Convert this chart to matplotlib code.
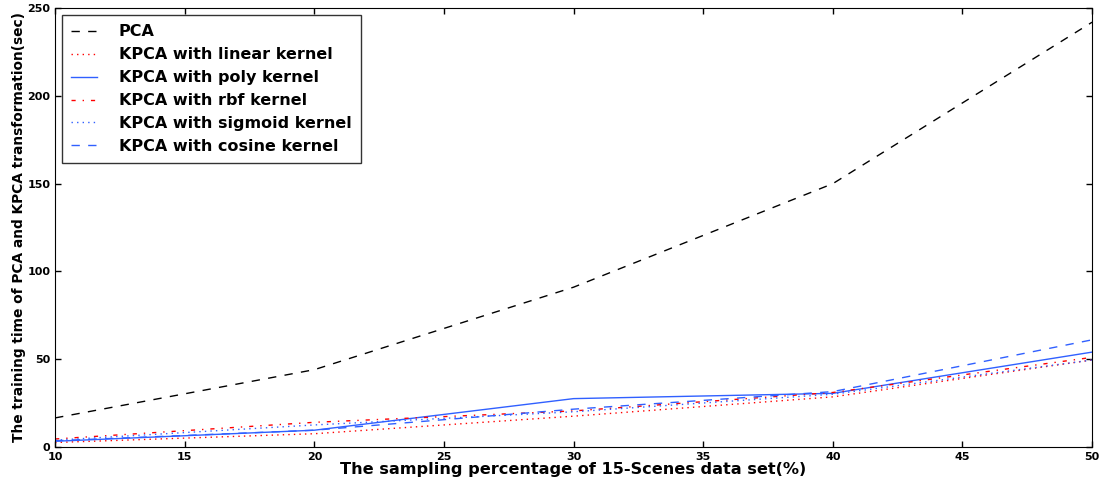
import numpy as np
import matplotlib
matplotlib.use("Agg")
import matplotlib.pyplot as plt

plt.rcParams["font.family"] = "DejaVu Sans"
plt.rcParams["lines.dashed_pattern"] = [6, 6]
plt.rcParams["lines.dashdot_pattern"] = [3, 5, 1, 5]
plt.rcParams["lines.dotted_pattern"] = [1, 3]
plt.rcParams["lines.scale_dashes"] = False

# sampling percentage of the 15-Scenes data set
percent = [10, 20, 30, 40, 50]

# training time (sec)
pca = [16.5, 44, 91, 150, 242]
kpca_linear = [2.5, 7.5, 17.5, 28.5, 49.5]
kpca_poly = [3.2, 9.5, 27.5, 30.5, 54]
kpca_rbf = [4.5, 14, 20.5, 31, 51]
kpca_sigmoid = [3.8, 12.5, 20, 30, 49.5]
kpca_cosine = [3.5, 9.5, 21.5, 31.5, 61]

blue = "#3060ff"

fig = plt.figure(figsize=(11.02, 4.8), dpi=100)
ax = fig.add_axes([0.05, 0.069, 0.941, 0.914])

ax.plot(percent, pca, "--", color="black", lw=1, label="PCA")
ax.plot(percent, kpca_linear, ":", color="red", lw=1, label="KPCA with linear kernel")
ax.plot(percent, kpca_poly, "-", color=blue, lw=1, label="KPCA with poly kernel")
ax.plot(percent, kpca_rbf, "-.", color="red", lw=1, label="KPCA with rbf kernel")
ax.plot(percent, kpca_sigmoid, ":", color=blue, lw=1, label="KPCA with sigmoid kernel")
ax.plot(percent, kpca_cosine, "--", color=blue, lw=1, label="KPCA with cosine kernel")

ax.set_xlim(10, 50)
ax.set_ylim(0, 250)
ax.set_xticks(np.arange(10, 51, 5))
ax.set_yticks(np.arange(0, 251, 50))
ax.tick_params(direction="in", top=True, right=True, length=4, width=1, labelsize=8)
for lab in ax.get_xticklabels() + ax.get_yticklabels():
    lab.set_fontweight("bold")

ax.set_xlabel("The sampling percentage of 15-Scenes data set(%)", fontsize=11.6,
              fontweight="bold", labelpad=0)
ax.set_ylabel("The training time of PCA and KPCA transformation(sec)", fontsize=9.9,
              fontweight="bold", labelpad=1)

leg = ax.legend(loc="upper left", prop={"size": 11.5, "weight": "bold"},
                handlelength=1.6, handletextpad=1.4, labelspacing=0.5,
                borderpad=0.55, fancybox=False, borderaxespad=0.45)
leg.get_frame().set_edgecolor("black")
leg.get_frame().set_linewidth(1)

fig.savefig("out.png", dpi=100)
